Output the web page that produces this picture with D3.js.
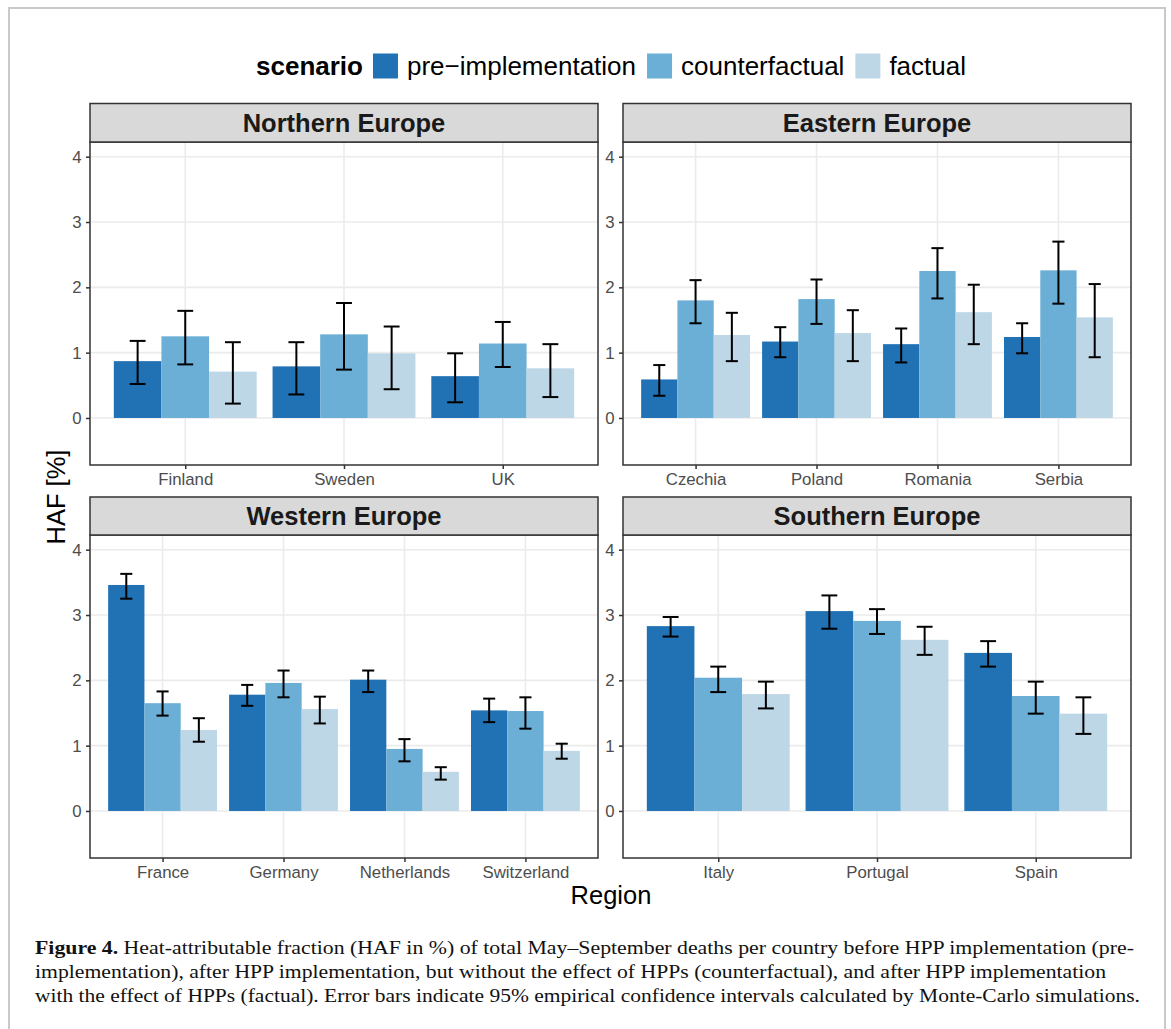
<!DOCTYPE html>
<html>
<head>
<meta charset="utf-8">
<script src="https://cdn.jsdelivr.net/npm/d3@7"></script>
<style>
html,body{margin:0;padding:0;background:#fff;}
svg{display:block;}
</style>
</head>
<body>
<svg id="chart" width="1171" height="1029"></svg>
<script>
// ---------- data ----------
const scenarios = ["pre\u2212implementation", "counterfactual", "factual"];
const regions = ["Northern Europe", "Eastern Europe", "Western Europe", "Southern Europe"];
const countries = ["Finland","Sweden","UK","Czechia","Poland","Romania","Serbia","France","Germany","Netherlands","Switzerland","Italy","Portugal","Spain"];
const countryRegion = ["Northern Europe","Northern Europe","Northern Europe","Eastern Europe","Eastern Europe","Eastern Europe","Eastern Europe","Western Europe","Western Europe","Western Europe","Western Europe","Southern Europe","Southern Europe","Southern Europe"];
const preValues = [0.87,0.79,0.64, 0.59,1.17,1.13,1.24, 3.46,1.78,2.01,1.54, 2.83,3.06,2.42];
const preLow    = [0.52,0.36,0.24, 0.34,0.93,0.85,0.99, 3.25,1.61,1.82,1.36, 2.67,2.79,2.21];
const preHigh   = [1.18,1.16,0.99, 0.81,1.39,1.37,1.45, 3.63,1.93,2.15,1.72, 2.97,3.30,2.60];
const cfValues  = [1.25,1.28,1.14, 1.80,1.82,2.25,2.26, 1.65,1.96,0.95,1.53, 2.04,2.91,1.76];
const cfLow     = [0.82,0.74,0.78, 1.45,1.44,1.83,1.75, 1.46,1.74,0.76,1.26, 1.82,2.71,1.49];
const cfHigh    = [1.64,1.76,1.47, 2.11,2.12,2.60,2.70, 1.83,2.15,1.10,1.74, 2.21,3.09,1.98];
const facValues = [0.71,0.99,0.76, 1.27,1.30,1.62,1.54, 1.24,1.56,0.60,0.92, 1.79,2.62,1.49];
const facLow    = [0.22,0.44,0.32, 0.87,0.87,1.13,0.93, 1.06,1.34,0.48,0.80, 1.57,2.39,1.18];
const facHigh   = [1.16,1.40,1.13, 1.61,1.65,2.04,2.05, 1.42,1.75,0.67,1.03, 1.98,2.82,1.74];
const yTicks = [0, 1, 2, 3, 4];
const yDomain = [-0.72, 4.225];
const colors = ["#2171b5", "#6baed6", "#bdd7e7"];
const captionLines = [
  {bold: "Figure 4.", text: " Heat-attributable fraction (HAF in %) of total May\u2013September deaths per country before HPP implementation (pre-"},
  {bold: "", text: "implementation), after HPP implementation, but without the effect of HPPs (counterfactual), and after HPP implementation"},
  {bold: "", text: "with the effect of HPPs (factual). Error bars indicate 95% empirical confidence intervals calculated by Monte-Carlo simulations."}
];

// build records
const records = [];
countries.forEach((c, i) => {
  const vals = [preValues[i], cfValues[i], facValues[i]];
  const lows = [preLow[i], cfLow[i], facLow[i]];
  const highs = [preHigh[i], cfHigh[i], facHigh[i]];
  scenarios.forEach((s, j) => {
    records.push({country: c, region: countryRegion[i], scenario: s, value: vals[j], low: lows[j], high: highs[j]});
  });
});

// ---------- layout ----------
const svg = d3.select("#chart");
const sans = "'Liberation Sans', Arial, Helvetica, sans-serif";
const serif = "'Liberation Serif', 'Times New Roman', serif";

// outer frame
svg.append("path")
  .attr("d", "M9,1040 L9,8 L1165,8 L1165,1040")
  .attr("fill", "none").attr("stroke", "#c9c9c9").attr("stroke-width", 2);

const panels = [
  {region: "Northern Europe", x0: 90,  x1: 598,  s0: 103.5, s1: 142, y1: 465},
  {region: "Eastern Europe",  x0: 623, x1: 1131, s0: 103.5, s1: 142, y1: 465},
  {region: "Western Europe",  x0: 90,  x1: 598,  s0: 497,   s1: 535, y1: 858},
  {region: "Southern Europe", x0: 623, x1: 1131, s0: 497,   s1: 535, y1: 858}
];

panels.forEach(p => {
  const g = svg.append("g");
  const cs = countries.filter((c, i) => countryRegion[i] === p.region);
  const x = d3.scalePoint().domain(cs).range([p.x0, p.x1]).padding(0.6);
  const step = x.step();
  const xs = d3.scaleBand().domain(scenarios).range([-0.45 * step, 0.45 * step]).padding(0);
  const y = d3.scaleLinear().domain(yDomain).range([p.y1, p.s1]);

  // background
  g.append("rect").attr("x", p.x0).attr("y", p.s1).attr("width", p.x1 - p.x0).attr("height", p.y1 - p.s1).attr("fill", "#fff");

  // gridlines
  g.selectAll(".hg").data(yTicks).join("line")
    .attr("x1", p.x0).attr("x2", p.x1)
    .attr("y1", d => y(d)).attr("y2", d => y(d))
    .attr("stroke", "#ebebeb").attr("stroke-width", 1.6);
  g.selectAll(".vg").data(cs).join("line")
    .attr("x1", d => x(d)).attr("x2", d => x(d))
    .attr("y1", p.s1).attr("y2", p.y1)
    .attr("stroke", "#ebebeb").attr("stroke-width", 1.6);

  const recs = records.filter(r => r.region === p.region);
  // bars
  g.selectAll(".bar").data(recs).join("rect")
    .attr("x", d => x(d.country) + xs(d.scenario))
    .attr("width", xs.bandwidth())
    .attr("y", d => y(Math.max(0, d.value)))
    .attr("height", d => Math.abs(y(0) - y(d.value)))
    .attr("fill", d => colors[scenarios.indexOf(d.scenario)]);

  // error bars
  const capW = 0.1 * step;
  const eb = g.selectAll(".eb").data(recs).join("g")
    .attr("transform", d => `translate(${x(d.country) + xs(d.scenario) + xs.bandwidth() / 2},0)`);
  eb.append("line").attr("x1", 0).attr("x2", 0)
    .attr("y1", d => y(d.low)).attr("y2", d => y(d.high))
    .attr("stroke", "#000").attr("stroke-width", 2);
  eb.append("line").attr("x1", -capW / 2).attr("x2", capW / 2)
    .attr("y1", d => y(d.high)).attr("y2", d => y(d.high))
    .attr("stroke", "#000").attr("stroke-width", 2);
  eb.append("line").attr("x1", -capW / 2).attr("x2", capW / 2)
    .attr("y1", d => y(d.low)).attr("y2", d => y(d.low))
    .attr("stroke", "#000").attr("stroke-width", 2);

  // panel border
  g.append("rect").attr("x", p.x0).attr("y", p.s1).attr("width", p.x1 - p.x0).attr("height", p.y1 - p.s1)
    .attr("fill", "none").attr("stroke", "#333").attr("stroke-width", 1.5);

  // strip
  g.append("rect").attr("x", p.x0).attr("y", p.s0).attr("width", p.x1 - p.x0).attr("height", p.s1 - p.s0)
    .attr("fill", "#d9d9d9").attr("stroke", "#333").attr("stroke-width", 1.5);
  g.append("text").attr("x", (p.x0 + p.x1) / 2).attr("y", (p.s0 + p.s1) / 2)
    .attr("dy", "0.36em").attr("text-anchor", "middle")
    .attr("font-family", sans).attr("font-weight", "bold").attr("font-size", 25.5)
    .attr("fill", "#1a1a1a").text(p.region);

  // y axis
  const ya = d3.axisLeft(y).tickValues(yTicks).tickSize(4).tickPadding(4.5).tickFormat(d3.format("d"));
  const yg = g.append("g").attr("transform", `translate(${p.x0},0)`).call(ya);
  yg.select(".domain").remove();
  yg.selectAll(".tick line").attr("stroke", "#333").attr("stroke-width", 1.5);
  yg.selectAll(".tick text").attr("fill", "#4d4d4d").attr("font-size", 16.8).attr("font-family", sans);

  // x axis
  const xa = d3.axisBottom(x).tickSize(4).tickPadding(4.5);
  const xg = g.append("g").attr("transform", `translate(0,${p.y1})`).call(xa);
  xg.select(".domain").remove();
  xg.selectAll(".tick line").attr("stroke", "#333").attr("stroke-width", 1.5);
  xg.selectAll(".tick text").attr("fill", "#4d4d4d").attr("font-size", 16.8).attr("font-family", sans);
});

// axis titles
svg.append("text").attr("transform", "translate(65,497) rotate(-90)")
  .attr("text-anchor", "middle").attr("font-family", sans).attr("font-size", 25.5).attr("fill", "#000")
  .text("HAF [%]");
svg.append("text").attr("x", 611).attr("y", 904)
  .attr("text-anchor", "middle").attr("font-family", sans).attr("font-size", 25.5).attr("fill", "#000")
  .text("Region");

// legend
const lg = svg.append("g");
const ly = 66;
const title = lg.append("text").attr("x", 0).attr("y", ly).attr("dy", "0.36em")
  .attr("font-family", sans).attr("font-weight", "bold").attr("font-size", 26).text("scenario");
let cx = title.node().getComputedTextLength() + 10;
scenarios.forEach((s, i) => {
  lg.append("rect").attr("x", cx).attr("y", ly - 12.5).attr("width", 25).attr("height", 25).attr("fill", colors[i]);
  cx += 25 + 9;
  const t = lg.append("text").attr("x", cx).attr("y", ly).attr("dy", "0.36em")
    .attr("font-family", sans).attr("font-size", 26).attr("fill", "#000").text(s);
  cx += t.node().getComputedTextLength() + (i < scenarios.length - 1 ? 11 : 0);
});
lg.attr("transform", `translate(${611 - cx / 2},0)`);

// caption
const capWidths = [1099, 1071, 1105];
captionLines.forEach((ln, i) => {
  const t = svg.append("text").attr("x", 35).attr("y", 954 + i * 24)
    .attr("font-family", serif).attr("font-size", 19.5).attr("fill", "#111")
    .attr("textLength", capWidths[i]).attr("lengthAdjust", "spacingAndGlyphs");
  if (ln.bold) t.append("tspan").attr("font-weight", "bold").text(ln.bold);
  t.append("tspan").text(ln.text);
});
</script>
</body>
</html>
